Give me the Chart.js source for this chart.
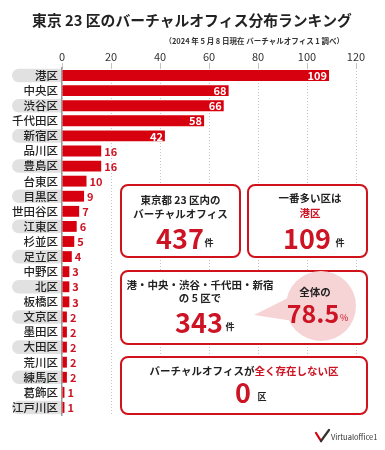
<!DOCTYPE html>
<html>
<head>
<meta charset="utf-8">
<script src="https://cdn.jsdelivr.net/npm/chart.js@4"></script>
<style>
  html, body { margin: 0; padding: 0; background: #fff; }
  #wrap { position: relative; width: 385px; height: 450px; }
</style>
</head>
<body>
<div id="wrap"><canvas id="rankChart" width="385" height="450"></canvas></div>
<script>
const titleText = "東京 23 区のバーチャルオフィス分布ランキング";
const subtitleText = "（2024 年 5 月 8 日現在 バーチャルオフィス 1 調べ）";

const wards = ["港区", "中央区", "渋谷区", "千代田区", "新宿区", "品川区", "豊島区", "台東区",
    "目黒区", "世田谷区", "江東区", "杉並区", "足立区", "中野区", "北区", "板橋区",
    "文京区", "墨田区", "大田区", "荒川区", "練馬区", "葛飾区", "江戸川区"];
const counts = [109, 68, 66, 58, 42, 16, 16, 10, 9, 7, 6, 5, 4, 3, 3, 3, 2, 2, 2, 2, 2, 1, 1];
const xTicks = [0, 20, 40, 60, 80, 100, 120];

// summary boxes
const totalOffices = 437;
const topWard = "港区";
const topCount = 109;
const top5Wards = ["港", "中央", "渋谷", "千代田", "新宿"];
const top5Count = 343;
const top5Share = 78.5;
const zeroWards = 0;

const RED = "#d7000f";
const TEXT_RED = "#cc1424";
const FONT = '"Noto Sans CJK JP", "Noto Sans", sans-serif';

function font(size, weight) {
    return (weight || "bold") + " " + size + "px " + FONT;
}

function text(ctx, str, x, y, size, color, align, weight) {
    ctx.font = font(size, weight);
    ctx.fillStyle = color;
    ctx.textAlign = align || "center";
    ctx.textBaseline = "middle";
    ctx.fillText(str, x, y);
}

function box(ctx, x, y, w, h) {
    ctx.save();
    ctx.beginPath();
    ctx.roundRect(x, y, w, h, 7);
    ctx.fillStyle = "#fff";
    ctx.fill();
    ctx.lineWidth = 2;
    ctx.strokeStyle = "#d0121b";
    ctx.stroke();
    ctx.restore();
}

// grey pills behind every other ward name
const pillPlugin = {
    id: "pills",
    beforeDraw(chart) {
        const ctx = chart.ctx;
        const y = chart.scales.y;
        ctx.save();
        ctx.fillStyle = "#e1e1e1";
        wards.forEach((w, i) => {
            if (i % 2 !== 0) return;
            const py = y.getPixelForValue(i);
            ctx.beginPath();
            ctx.roundRect(12, py - 6.8, 50, 13.6, [7, 0, 0, 7]);
            ctx.fill();
        });
        ctx.restore();
    },
};

const valueLabelPlugin = {
    id: "valueLabels",
    afterDatasetsDraw(chart) {
        const ctx = chart.ctx;
        const meta = chart.getDatasetMeta(0);
        ctx.save();
        meta.data.forEach((bar, i) => {
            const v = counts[i];
            if (v >= 40) {
                text(ctx, String(v), bar.x - 2, bar.y + 0.5, 11, "#fff", "right");
            } else {
                text(ctx, String(v), bar.x + 3, bar.y + 0.5, 11, TEXT_RED, "left");
            }
        });
        ctx.restore();
    },
};

const overlayPlugin = {
    id: "overlay",
    afterDraw(chart) {
        const ctx = chart.ctx;
        ctx.save();

        // title
        ctx.font = font(16);
        const tw = ctx.measureText(titleText).width;
        const ts = 16 * 320 / tw;
        text(ctx, titleText, 192, 20, ts, "#222");
        text(ctx, subtitleText, 344, 41, 7.5, "#333", "right");

        // box 1
        box(ctx, 121, 185, 119, 72);
        text(ctx, "東京都 23 区内の", 180.5, 200, 10.5, "#222");
        text(ctx, "バーチャルオフィス", 180.5, 214, 10.5, "#222");
        text(ctx, String(totalOffices), 180, 239, 27, TEXT_RED);
        text(ctx, "件", 209, 243, 9, "#222");

        // box 2
        box(ctx, 248, 185, 119, 72);
        text(ctx, "一番多い区は", 310, 198, 10.5, "#222");
        text(ctx, topWard, 310, 213, 10.5, TEXT_RED);
        text(ctx, String(topCount), 307, 239, 27, TEXT_RED);
        text(ctx, "件", 340, 243, 9, "#222");

        // box 3
        box(ctx, 121, 271, 246, 73);
        ctx.fillStyle = "#f6d3d5";
        ctx.beginPath();
        ctx.arc(321, 306, 35, 0, Math.PI * 2);
        ctx.fill();
        ctx.beginPath();
        ctx.moveTo(254, 315);
        ctx.lineTo(292, 296);
        ctx.lineTo(300, 322);
        ctx.closePath();
        ctx.fill();
        text(ctx, top5Wards.join("・"), 200, 285, 10.5, "#222");
        text(ctx, "の 5 区で", 200, 298, 10.5, "#222");
        text(ctx, String(top5Count), 199, 323, 27, TEXT_RED);
        text(ctx, "件", 230, 327, 9, "#222");
        text(ctx, "全体の", 315, 292, 10.5, "#222");
        text(ctx, String(top5Share), 313, 313, 25, TEXT_RED);
        text(ctx, "%", 340, 318, 9, TEXT_RED, "left", "normal");

        // box 4
        box(ctx, 121, 357, 246, 57);
        ctx.font = font(10.5);
        const a = "バーチャルオフィスが";
        const b = "全く存在しない区";
        const wa = ctx.measureText(a).width;
        const wb = ctx.measureText(b).width;
        const sx = 244 - (wa + wb) / 2;
        text(ctx, a, sx, 371, 10.5, "#222", "left");
        text(ctx, b, sx + wa, 371, 10.5, TEXT_RED, "left");
        text(ctx, String(zeroWards), 243, 393, 27, TEXT_RED);
        text(ctx, "区", 262, 397, 9, "#222");

        // logo
        ctx.lineCap = "round";
        ctx.lineWidth = 2.2;
        ctx.strokeStyle = RED;
        ctx.beginPath();
        ctx.moveTo(316, 433);
        ctx.lineTo(321, 441);
        ctx.stroke();
        ctx.strokeStyle = "#333";
        ctx.beginPath();
        ctx.moveTo(321, 441);
        ctx.lineTo(329, 430);
        ctx.stroke();
        text(ctx, "Virtualoffice1", 331, 437, 7.5, "#333", "left", "normal");

        ctx.restore();
    },
};

const ctx = document.getElementById("rankChart").getContext("2d");
const rankChart = new Chart(ctx, {
    type: "bar",
    data: {
        labels: wards,
        datasets: [
            {
                data: counts,
                backgroundColor: RED,
                borderWidth: 0,
                barPercentage: 0.72,
                categoryPercentage: 1,
            },
        ],
    },
    options: {
        indexAxis: "y",
        responsive: false,
        animation: false,
        devicePixelRatio: 1,
        layout: {
            padding: { top: 48, bottom: 35, left: 0, right: 29 },
        },
        plugins: {
            legend: { display: false },
            tooltip: { enabled: false },
        },
        scales: {
            x: {
                position: "top",
                min: xTicks[0],
                max: xTicks[xTicks.length - 1],
                afterFit: (s) => { s.height = 20; },
                afterBuildTicks: (s) => { s.ticks = xTicks.map((v) => ({ value: v })); },
                ticks: {
                    padding: 0,
                    color: "#333",
                    font: { family: FONT, size: 11 },
                },
                grid: {
                    color: "#c4c4c4",
                    lineWidth: 1,
                    tickLength: 5,
                },
                border: { display: false, dash: [1, 2] },
            },
            y: {
                afterFit: (s) => { s.width = 62; },
                ticks: {
                    autoSkip: false,
                    padding: 4,
                    color: "#222",
                    font: { family: FONT, size: 11.5, weight: 500 },
                },
                grid: { display: false, drawTicks: false },
                border: { display: true, color: "#9a9a9a", width: 1.5 },
            },
        },
    },
    plugins: [pillPlugin, valueLabelPlugin, overlayPlugin],
});
</script>
</body>
</html>
